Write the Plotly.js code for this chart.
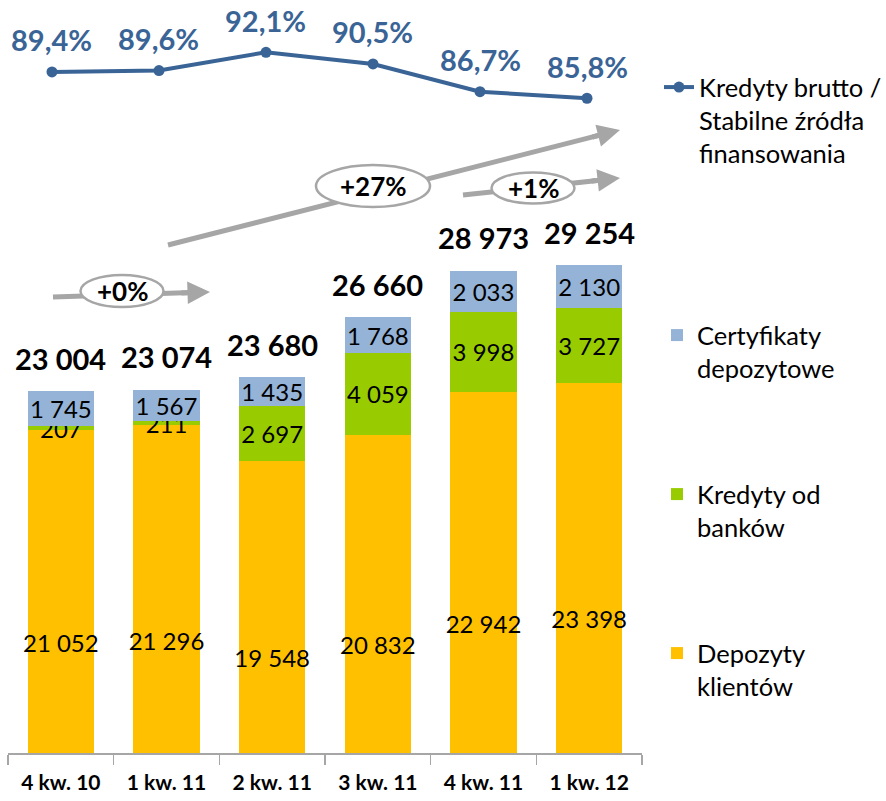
<!DOCTYPE html>
<html>
<head>
<meta charset="utf-8">
<script src="https://cdn.plot.ly/plotly-3.0.1.min.js"></script>
<style>html,body{margin:0;padding:0;background:#fff;}#chart{width:886px;height:801px;}</style>
</head>
<body>
<div id="chart"></div>
<script>
// ---- data ----
const categories = ['4 kw. 10', '1 kw. 11', '2 kw. 11', '3 kw. 11', '4 kw. 11', '1 kw. 12'];
const depozytyKlientow = [21052, 21296, 19548, 20832, 22942, 23398];
const kredytyOdBankow = [207, 211, 2697, 4059, 3998, 3727];
const certyfikaty = [1745, 1567, 1435, 1768, 2033, 2130];
const sumy = [23004, 23074, 23680, 26660, 28973, 29254];
const wskaznik = [89.4, 89.6, 92.1, 90.5, 86.7, 85.8];
const zmiany = ['+0%', '+27%', '+1%'];

// ---- layout helpers (pixel -> paper) ----
const L = 8, R = 642, T = 20, B = 753;
const px = v => (v - L) / (R - L);
const py = v => (B - v) / (B - T);
const FONT = 'Lato, "Open Sans", sans-serif';
const GREY = '#A6A6A6';
const BLUE = '#3A6496';
const fmtInt = v => String(v).replace(/\B(?=(\d{3})+(?!\d))/g, ' ');

const segFont = {family: FONT, size: 24, color: '#000'};
const barCommon = {
  type: 'bar', x: categories, textposition: 'inside', insidetextanchor: 'middle',
  textangle: 0, texttemplate: '%{y:,}', textfont: segFont, hoverinfo: 'skip',
  marker: {line: {width: 0}}
};

const traces = [
  Object.assign({}, barCommon, {y: depozytyKlientow, name: 'Depozyty<br>klientów', marker: {color: '#FFC000'}, legend: 'legend4'}),
  Object.assign({}, barCommon, {y: kredytyOdBankow, name: 'Kredyty od<br>banków', marker: {color: '#99CC00'}, legend: 'legend3'}),
  Object.assign({}, barCommon, {y: certyfikaty, name: 'Certyfikaty<br>depozytowe', marker: {color: '#95B3D7'}, legend: 'legend2'}),
  {
    type: 'scatter', mode: 'lines+markers', x: categories, y: wskaznik,
    xaxis: 'x2', yaxis: 'y2', name: 'Kredyty brutto /<br>Stabilne źródła<br>finansowania',
    line: {color: BLUE, width: 4}, marker: {color: BLUE, size: 11}, legend: 'legend', hoverinfo: 'skip'
  }
];

const annotations = [];
// totals above bars
categories.forEach((c, i) => annotations.push({
  x: c, y: sumy[i], xref: 'x', yref: 'y', text: fmtInt(sumy[i]), showarrow: false,
  xanchor: 'center', yanchor: 'middle',
  yshift: 33, font: {family: FONT, size: 29, color: '#000', weight: 'bold'}
}));
// ratio labels above line points
categories.forEach((c, i) => annotations.push({
  x: c, y: wskaznik[i], xref: 'x2', yref: 'y2', text: wskaznik[i].toFixed(1).replace('.', ',') + '%',
  xanchor: 'center', yanchor: 'middle',
  showarrow: false, yshift: 32, font: {family: FONT, size: 29, color: BLUE, weight: 'bold'}
}));

// growth arrows (decoration): tail, head, ellipse centre / size
const arrows = [
  {t: [53, 297], h: [210, 292], c: [122, 291], w: 83, hgt: 32},
  {t: [168, 245], h: [620, 130], c: [373, 186], w: 114, hgt: 42},
  {t: [463, 195], h: [620, 178], c: [533, 188], w: 83, hgt: 31}
];
const shapes = [];
arrows.forEach((a, k) => {
  const dx = a.h[0] - a.t[0], dy = a.h[1] - a.t[1], len = Math.hypot(dx, dy);
  const ex = a.h[0] - dx / len * 18, ey = a.h[1] - dy / len * 18;
  shapes.push({type: 'line', xref: 'paper', yref: 'paper', x0: px(a.t[0]), y0: py(a.t[1]), x1: px(ex), y1: py(ey),
    line: {color: GREY, width: 5}, layer: 'above'});
  annotations.push({xref: 'paper', yref: 'paper', x: px(a.h[0]), y: py(a.h[1]), text: '', showarrow: true,
    ax: -dx / len * 30, ay: -dy / len * 30, arrowhead: 2, arrowsize: 0.9, arrowwidth: 5, arrowcolor: GREY, standoff: 0});
  shapes.push({type: 'circle', xref: 'paper', yref: 'paper',
    x0: px(a.c[0] - a.w / 2), x1: px(a.c[0] + a.w / 2), y0: py(a.c[1] + a.hgt / 2), y1: py(a.c[1] - a.hgt / 2),
    fillcolor: '#fff', line: {color: GREY, width: 2.5}, layer: 'above'});
  annotations.push({xref: 'paper', yref: 'paper', x: px(a.c[0]), y: py(a.c[1]), text: zmiany[k], showarrow: false,
    xanchor: 'center', yanchor: 'middle',
    font: {family: FONT, size: 26, color: '#000', weight: 'bold'}});
});

const legFont = {family: FONT, size: 25.5, color: '#000'};
const legBase = {xanchor: 'left', yanchor: 'top', valign: 'top', font: legFont, bgcolor: 'rgba(0,0,0,0)', borderwidth: 0};

const layout = {
  width: 886, height: 801,
  margin: {l: L, r: 886 - R, t: T, b: 801 - B, pad: 0, autoexpand: false},
  paper_bgcolor: '#fff', plot_bgcolor: '#fff',
  separators: ', ',
  barmode: 'stack', bargap: 0.375,
  hovermode: false,
  font: {family: FONT},
  uniformtext: {mode: 'show', minsize: 24},
  xaxis: {
    type: 'category', range: [-0.5, 5.5], showline: true, linecolor: GREY, linewidth: 1.5,
    ticks: 'outside', tickson: 'boundaries', ticklen: 10, tickcolor: GREY, tickwidth: 1.5,
    showgrid: false, zeroline: false, tickangle: 0, automargin: false, ticklabelstandoff: 10,
    tickfont: {family: FONT, size: 21, color: '#000', weight: 'bold'}
  },
  yaxis: {range: [5048, 41407], visible: false, showgrid: false, zeroline: false},
  xaxis2: {type: 'category', overlaying: 'x', range: [-0.411, 5.514], visible: false},
  yaxis2: {overlaying: 'y', range: [-3.89, 96.52], visible: false, showgrid: false, zeroline: false},
  showlegend: true,
  legend: Object.assign({}, legBase, {x: px(659), y: py(64)}),
  legend2: Object.assign({}, legBase, {x: px(657), y: py(312)}),
  legend3: Object.assign({}, legBase, {x: px(657), y: py(471)}),
  legend4: Object.assign({}, legBase, {x: px(657), y: py(630)}),
  annotations: annotations,
  shapes: shapes
};

Plotly.newPlot('chart', traces, layout, {displayModeBar: false, staticPlot: true});
</script>
</body>
</html>
